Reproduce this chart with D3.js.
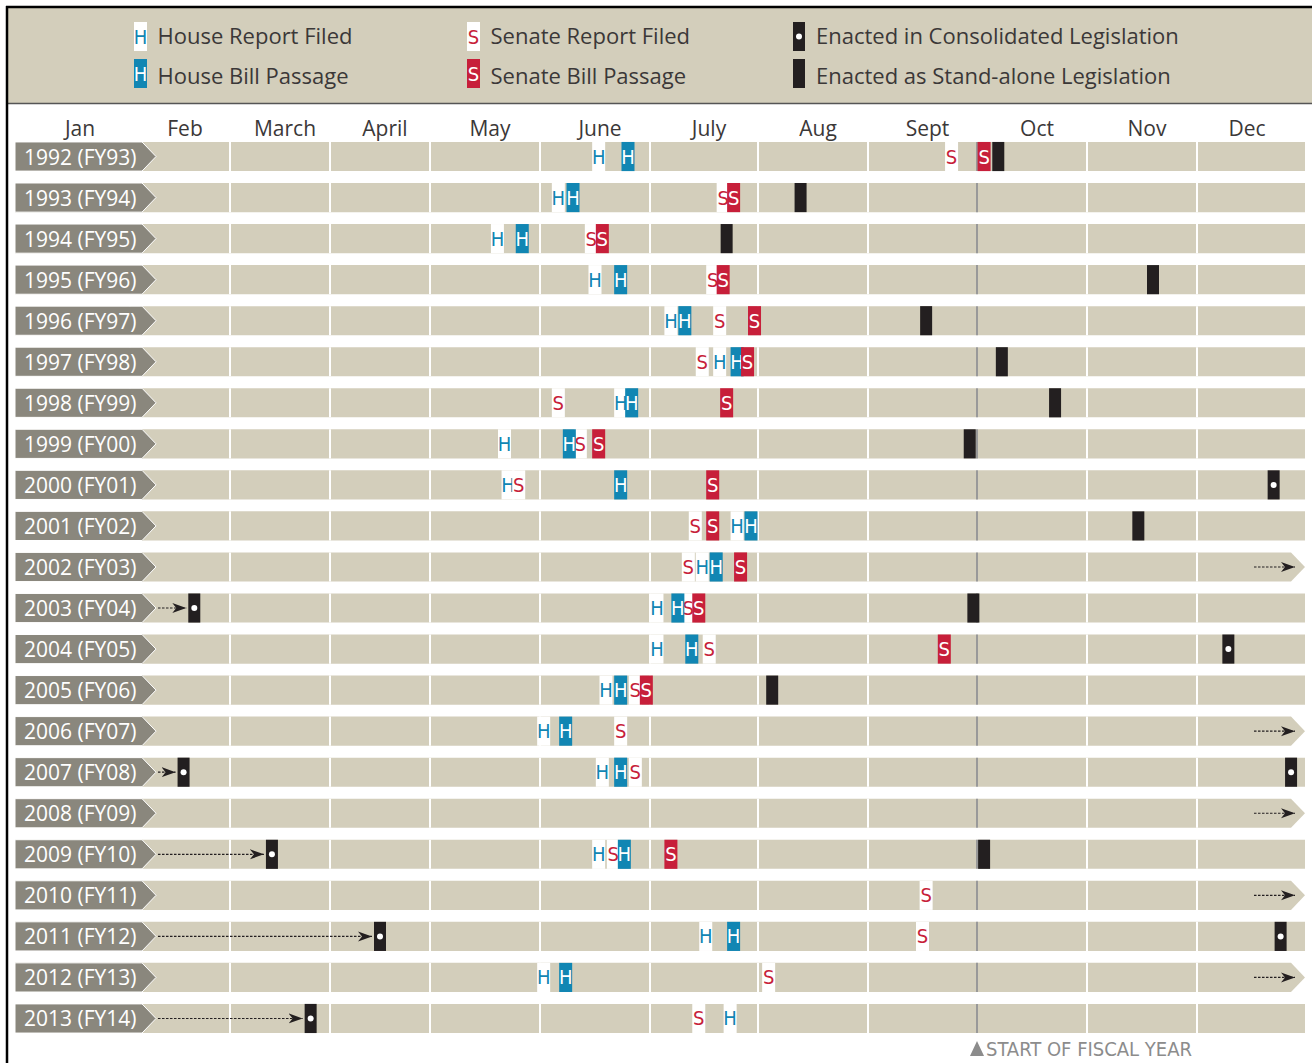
<!DOCTYPE html>
<html>
<head>
<meta charset="utf-8">
<script src="https://cdn.jsdelivr.net/npm/d3@7"></script>
<style>
    body { margin: 0; background: #fff; }
    svg { display: block; }
</style>
</head>
<body>
<div id="chart"></div>
<script>
'use strict'

// ---- data (dates are month-day within the calendar year of each row) ----
const months = ["Jan", "Feb", "March", "April", "May", "June", "July", "Aug", "Sept", "Oct", "Nov", "Dec"];

const rowLabels = [
    "1992 (FY93)", "1993 (FY94)", "1994 (FY95)", "1995 (FY96)", "1996 (FY97)", "1997 (FY98)",
    "1998 (FY99)", "1999 (FY00)", "2000 (FY01)", "2001 (FY02)", "2002 (FY03)", "2003 (FY04)",
    "2004 (FY05)", "2005 (FY06)", "2006 (FY07)", "2007 (FY08)", "2008 (FY09)", "2009 (FY10)",
    "2010 (FY11)", "2011 (FY12)", "2012 (FY13)", "2013 (FY14)"
];

const houseReport = ["06-17", "06-06", "05-20", "06-16", "07-07", "07-21", "06-23", "05-22", "05-23", "07-26", "07-16",
    "07-03", "07-03", "06-19", "06-02", "06-18", null, "06-17", null, "07-17", "06-02", "07-24"];
const houseBill = ["06-25", "06-10", "05-27", "06-23", "07-11", "07-26", "06-26", "06-09", "06-23", "07-30", "07-20",
    "07-09", "07-13", "06-23", "06-08", "06-23", null, "06-24", null, "07-25", "06-08", null];
const senateReport = ["09-24", "07-22", "06-15", "07-19", "07-21", "07-16", "06-06", "06-12", "05-26", "07-14", "07-12",
    "07-12", "07-18", "06-27", "06-23", "06-27", null, "06-21", "09-17", "09-16", "08-04", "07-15"];
const senateBill = ["10-03", "07-25", "06-18", "07-22", "07-31", "07-29", "07-23", "06-17", "07-19", "07-19", "07-27",
    "07-15", "09-22", "06-30", null, null, null, "07-07", null, null, null, null];
const enactedStandalone = ["10-07", "08-13", "07-23", "11-19", "09-17", "10-08", "10-23", "09-29", null, "11-15", null,
    "09-30", null, "08-05", null, null, null, "10-03", null, null, null, null];
const enactedConsolidated = [null, null, null, null, null, null, null, null, "12-23", null, null,
    null, "12-10", null, null, "12-28", null, null, null, "12-25", null, null];
// previous fiscal year's bill, enacted early in this calendar year
const carriedIn = [null, null, null, null, null, null, null, null, null, null, null,
    "02-19", null, null, null, "02-16", null, "03-14", null, "04-16", null, "03-26"];
// no enactment before the year ran out
const carriedOut = [false, false, false, false, false, false, false, false, false, false, true,
    false, false, false, true, false, true, false, true, false, true, false];

// ---- colours ----
const beige = "#d3cebb";
const blue = "#1186b3";
const red = "#c71f3a";
const ink = "#231f20";
const labelGrey = "#8a877d";
const textColor = "#3b3838";

const width = 1312;
const height = 1063;
const font = "'Open Sans', 'Noto Sans', sans-serif";
const narrow = "'Liberation Sans Narrow', 'DejaVu Sans Condensed', sans-serif";

const svg = d3.select("#chart")
    .append("svg")
    .attr("width", width)
    .attr("height", height);

// ---- scales ----
const refYear = 2001;
const parseDay = s => {
    const [m, d] = s.split("-").map(Number);
    return new Date(refYear, m - 1, d);
};
const monthStarts = d3.range(13).map(i => new Date(refYear, i, 1));
const monthEdges = [20, 130, 230, 330, 430, 540, 650, 758, 868, 977, 1087, 1197, 1305];

const x = d3.scaleTime()
    .domain(monthStarts)
    .range(monthEdges);

const y = d3.scaleBand()
    .domain(rowLabels)
    .range([136, 1039])
    .paddingInner(0.29)
    .paddingOuter(0.145);

const bh = y.bandwidth();
const barLeft = 15;
const barRight = x(monthStarts[12]);

// ---- frame and legend ----
svg.append("rect")
    .attr("x", 8).attr("y", 8)
    .attr("width", width - 8).attr("height", 95)
    .attr("fill", beige);

svg.append("line")
    .attr("x1", 8).attr("x2", width)
    .attr("y1", 103.5).attr("y2", 103.5)
    .attr("stroke", "#555")
    .attr("stroke-width", 1.5);

svg.append("line")
    .attr("x1", 6).attr("x2", width)
    .attr("y1", 7).attr("y2", 7)
    .attr("stroke", "#000")
    .attr("stroke-width", 2.5);

svg.append("line")
    .attr("x1", 7).attr("x2", 7)
    .attr("y1", 6).attr("y2", height)
    .attr("stroke", "#000")
    .attr("stroke-width", 2.5);

function drawMarker(g, cx, top, h, kind) {
    const w = 13;
    if (kind === "houseReport" || kind === "senateReport") {
        const c = kind === "houseReport" ? blue : red;
        g.append("rect")
            .attr("x", cx - w / 2).attr("y", top)
            .attr("width", w).attr("height", h)
            .attr("fill", "#fff");
        g.append("text")
            .attr("x", cx).attr("y", top + h / 2 + 7)
            .attr("text-anchor", "middle")
            .style("font-family", narrow)
            .style("font-size", "20px")
            .style("fill", c)
            .text(kind === "houseReport" ? "H" : "S");
    } else if (kind === "houseBill" || kind === "senateBill") {
        const c = kind === "houseBill" ? blue : red;
        g.append("rect")
            .attr("x", cx - w / 2).attr("y", top)
            .attr("width", w).attr("height", h)
            .attr("fill", c);
        g.append("text")
            .attr("x", cx).attr("y", top + h / 2 + 7)
            .attr("text-anchor", "middle")
            .style("font-family", narrow)
            .style("font-size", "20px")
            .style("fill", "#fff")
            .text(kind === "houseBill" ? "H" : "S");
    } else {
        g.append("rect")
            .attr("x", cx - 6).attr("y", top)
            .attr("width", 12).attr("height", h)
            .attr("fill", ink);
        if (kind === "consolidated") {
            g.append("circle")
                .attr("cx", cx).attr("cy", top + h / 2)
                .attr("r", 3)
                .attr("fill", "#fff");
        }
    }
}

const legendItems = [
    { kind: "houseReport", label: "House Report Filed", col: 0, row: 0 },
    { kind: "houseBill", label: "House Bill Passage", col: 0, row: 1 },
    { kind: "senateReport", label: "Senate Report Filed", col: 1, row: 0 },
    { kind: "senateBill", label: "Senate Bill Passage", col: 1, row: 1 },
    { kind: "consolidated", label: "Enacted in Consolidated Legislation", col: 2, row: 0 },
    { kind: "standalone", label: "Enacted as Stand-alone Legislation", col: 2, row: 1 }
];
const legendCols = [140.5, 473.5, 799];
const legend = svg.append("g");
legendItems.forEach(d => {
    const cx = legendCols[d.col];
    drawMarker(legend, cx, 22 + d.row * 37, 29, d.kind);
    legend.append("text")
        .attr("x", cx + 17)
        .attr("y", 44 + d.row * 40)
        .style("font-family", font)
        .style("font-size", "22px")
        .style("fill", textColor)
        .text(d.label);
});

// ---- month labels ----
svg.append("g")
    .selectAll("text")
    .data(months)
    .enter().append("text")
    .attr("x", (d, i) => (x(monthStarts[i]) + x(monthStarts[i + 1])) / 2 + (i === 11 ? -4 : 5))
    .attr("y", 136)
    .attr("text-anchor", "middle")
    .style("font-family", font)
    .style("font-size", "21px")
    .style("fill", textColor)
    .text(d => d);

// ---- rows ----
const rows = svg.append("g")
    .selectAll("g")
    .data(rowLabels)
    .enter().append("g")
    .attr("transform", d => `translate(0,${y(d)})`);

rows.append("path")
    .attr("d", (d, i) => carriedOut[i]
        ? `M${barLeft},0H${barRight - 14}L${barRight},${bh / 2}L${barRight - 14},${bh}H${barLeft}Z`
        : `M${barLeft},0H${barRight}V${bh}H${barLeft}Z`)
    .attr("fill", beige);

// month separators
rows.selectAll(".sep")
    .data(monthStarts.slice(1, 12))
    .enter().append("line")
    .attr("class", "sep")
    .attr("x1", d => x(d)).attr("x2", d => x(d))
    .attr("y1", 0).attr("y2", bh)
    .attr("stroke", "#fff")
    .attr("stroke-width", 2);

// start of fiscal year
const fyStart = x(new Date(refYear, 9, 1));
rows.append("line")
    .attr("x1", fyStart).attr("x2", fyStart)
    .attr("y1", 0).attr("y2", bh)
    .attr("stroke", "#555")
    .attr("stroke-width", 1.2);

// row labels
rows.append("path")
    .attr("d", `M${barLeft},0H142L156,${bh / 2}L142,${bh}H${barLeft}Z`)
    .attr("fill", labelGrey)
    .attr("stroke", "#fff")
    .attr("stroke-width", 1);

rows.append("text")
    .attr("x", 24)
    .attr("y", bh / 2 + 8)
    .style("font-family", font)
    .style("font-size", "21px")
    .style("fill", "#fff")
    .text(d => d);

// arrowhead
svg.append("defs").append("marker")
    .attr("id", "head")
    .attr("viewBox", "-14 -6 15 12")
    .attr("refX", 0).attr("refY", 0)
    .attr("markerWidth", 15).attr("markerHeight", 12)
    .attr("markerUnits", "userSpaceOnUse")
    .attr("orient", "auto")
    .append("path")
    .attr("d", "M0,0L-14,-5L-10,0L-14,5Z")
    .attr("fill", ink);

rows.each(function (label, i) {
    const g = d3.select(this);
    const layer = (arr, kind) => {
        if (arr[i]) drawMarker(g, x(parseDay(arr[i])), 0, bh, kind);
    };
    layer(houseReport, "houseReport");
    layer(senateReport, "senateReport");
    layer(houseBill, "houseBill");
    layer(senateBill, "senateBill");
    layer(enactedStandalone, "standalone");
    layer(enactedConsolidated, "consolidated");

    if (carriedIn[i]) {
        const cx = x(parseDay(carriedIn[i]));
        g.append("line")
            .attr("x1", 158).attr("x2", cx - 8)
            .attr("y1", bh / 2).attr("y2", bh / 2)
            .attr("stroke", ink)
            .attr("stroke-width", 1.2)
            .attr("stroke-dasharray", "2.5,1.5")
            .attr("marker-end", "url(#head)");
        drawMarker(g, cx, 0, bh, "consolidated");
    }
    if (carriedOut[i]) {
        g.append("line")
            .attr("x1", barRight - 51).attr("x2", barRight - 10)
            .attr("y1", bh / 2).attr("y2", bh / 2)
            .attr("stroke", ink)
            .attr("stroke-width", 1.2)
            .attr("stroke-dasharray", "2.5,1.5")
            .attr("marker-end", "url(#head)");
    }
});

// ---- fiscal year note ----
const noteY = 1056;
svg.append("path")
    .attr("d", `M${fyStart},${noteY - 15}L${fyStart + 7},${noteY}L${fyStart - 7},${noteY}Z`)
    .attr("fill", "#8c8c8c");

svg.append("text")
    .attr("x", fyStart + 9)
    .attr("y", noteY)
    .style("font-family", narrow)
    .style("font-size", "20px")
    .style("fill", "#8c8c8c")
    .text("START OF FISCAL YEAR");
</script>
</body>
</html>
